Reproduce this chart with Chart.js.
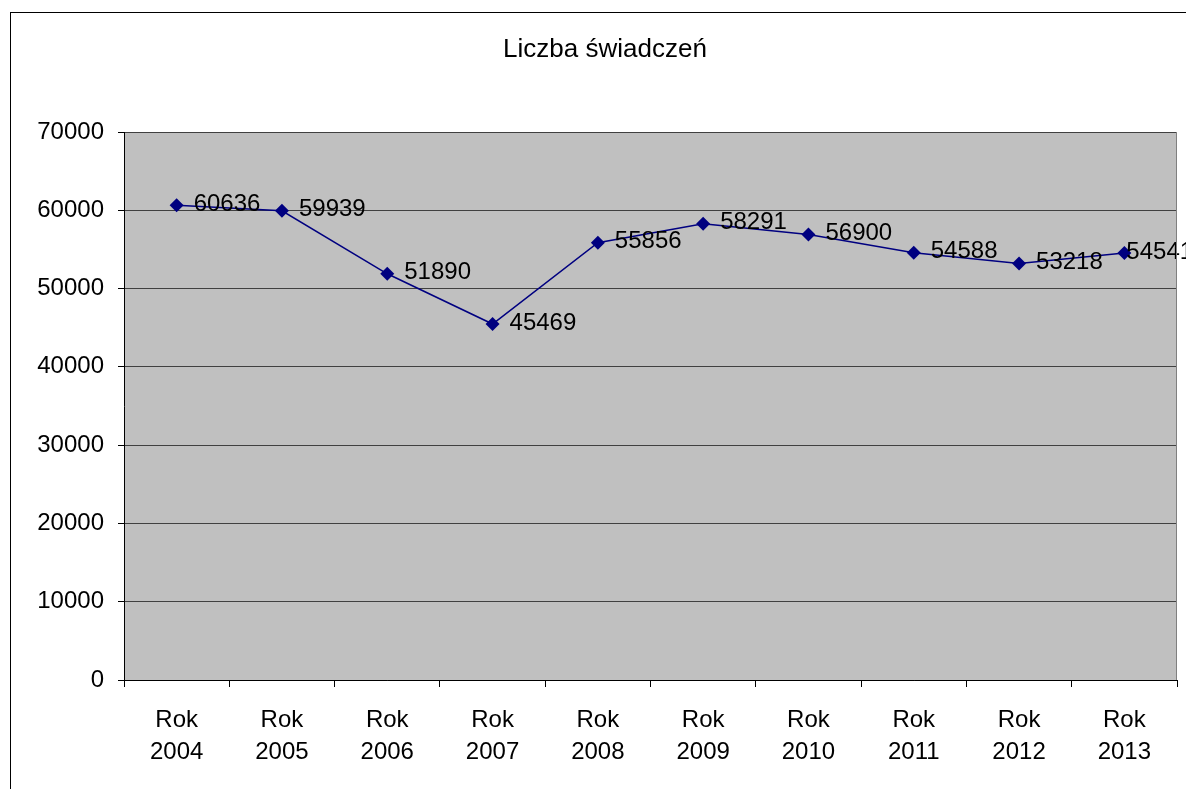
<!DOCTYPE html>
<html>
<head>
<meta charset="utf-8">
<script src="https://cdn.jsdelivr.net/npm/chart.js@4"></script>
<style>
html,body{margin:0;padding:0;background:#fff;}
canvas{display:block;}
</style>
</head>
<body>
<canvas id="c" width="1186" height="789"></canvas>
<script>
const categories = [['Rok','2004'],['Rok','2005'],['Rok','2006'],['Rok','2007'],['Rok','2008'],['Rok','2009'],['Rok','2010'],['Rok','2011'],['Rok','2012'],['Rok','2013']];
const values = [60636, 59939, 51890, 45469, 55856, 58291, 56900, 54588, 53218, 54541];
const chartTitle = 'Liczba świadczeń';
const FONT = "'Liberation Sans', Arial, sans-serif";

const framePlugin = {
  id: 'frame',
  beforeDraw(chart) {
    const ctx = chart.ctx, a = chart.chartArea;
    ctx.save();
    ctx.fillStyle = '#fff';
    ctx.fillRect(0, 0, chart.width, chart.height);
    ctx.strokeStyle = '#000';
    ctx.lineWidth = 1;
    ctx.strokeRect(10.5, 12.5, 1300, 1000);
    ctx.fillStyle = '#C0C0C0';
    ctx.fillRect(a.left, a.top, a.right - a.left, a.bottom - a.top);
    ctx.fillStyle = '#000';
    ctx.font = '26px ' + FONT;
    ctx.textAlign = 'center';
    ctx.textBaseline = 'middle';
    ctx.fillText(chartTitle, 605, 50);
    ctx.restore();
  },
  afterDraw(chart) {
    const ctx = chart.ctx, a = chart.chartArea;
    ctx.save();
    ctx.strokeStyle = '#808080';
    ctx.lineWidth = 1;
    ctx.beginPath();
    ctx.moveTo(Math.round(a.right) - 0.5, a.top);
    ctx.lineTo(Math.round(a.right) - 0.5, a.bottom);
    ctx.stroke();
    ctx.restore();
  }
};

const labelPlugin = {
  id: 'pointLabels',
  afterDatasetsDraw(chart) {
    const ctx = chart.ctx;
    const meta = chart.getDatasetMeta(0);
    ctx.save();
    ctx.fillStyle = '#000';
    ctx.font = '24px ' + FONT;
    ctx.textAlign = 'left';
    ctx.textBaseline = 'middle';
    meta.data.forEach((pt, i) => {
      const dx = (i === meta.data.length - 1) ? 2 : 17;
      ctx.fillText(String(values[i]), pt.x + dx, pt.y - 1);
    });
    ctx.restore();
  }
};

new Chart(document.getElementById('c'), {
  type: 'line',
  data: {
    labels: categories,
    datasets: [{
      data: values,
      borderColor: '#000080',
      backgroundColor: '#000080',
      borderWidth: 1.5,
      pointStyle: 'rectRot',
      pointRadius: 7,
      pointHoverRadius: 7,
      pointBorderWidth: 0,
      tension: 0,
      fill: false
    }]
  },
  options: {
    responsive: false,
    animation: false,
    devicePixelRatio: 1,
    layout: { padding: { left: 0, right: 9, top: 132, bottom: 0 } },
    plugins: {
      legend: { display: false },
      tooltip: { enabled: false },
      title: { display: false }
    },
    scales: {
      x: {
        type: 'category',
        offset: true,
        grid: {
          offset: true,
          drawOnChartArea: false,
          drawTicks: true,
          tickLength: 7,
          color: '#000',
          tickColor: '#000'
        },
        border: { display: true, color: '#000', width: 1 },
        ticks: {
          color: '#000',
          font: { family: FONT, size: 24, lineHeight: 1.33 },
          padding: 17,
          maxRotation: 0,
          autoSkip: false
        },
        afterFit(scale) { scale.height = 109; }
      },
      y: {
        min: 0,
        max: 70000,
        grid: {
          color: '#404040',
          tickColor: '#000',
          tickLength: 6,
          drawTicks: true
        },
        border: { display: true, color: '#000', width: 1 },
        ticks: {
          stepSize: 10000,
          color: '#000',
          font: { family: FONT, size: 24 },
          padding: 14,
          callback: (v) => String(v)
        },
        afterFit(scale) { scale.width = 124; }
      }
    }
  },
  plugins: [framePlugin, labelPlugin]
});
</script>
</body>
</html>
